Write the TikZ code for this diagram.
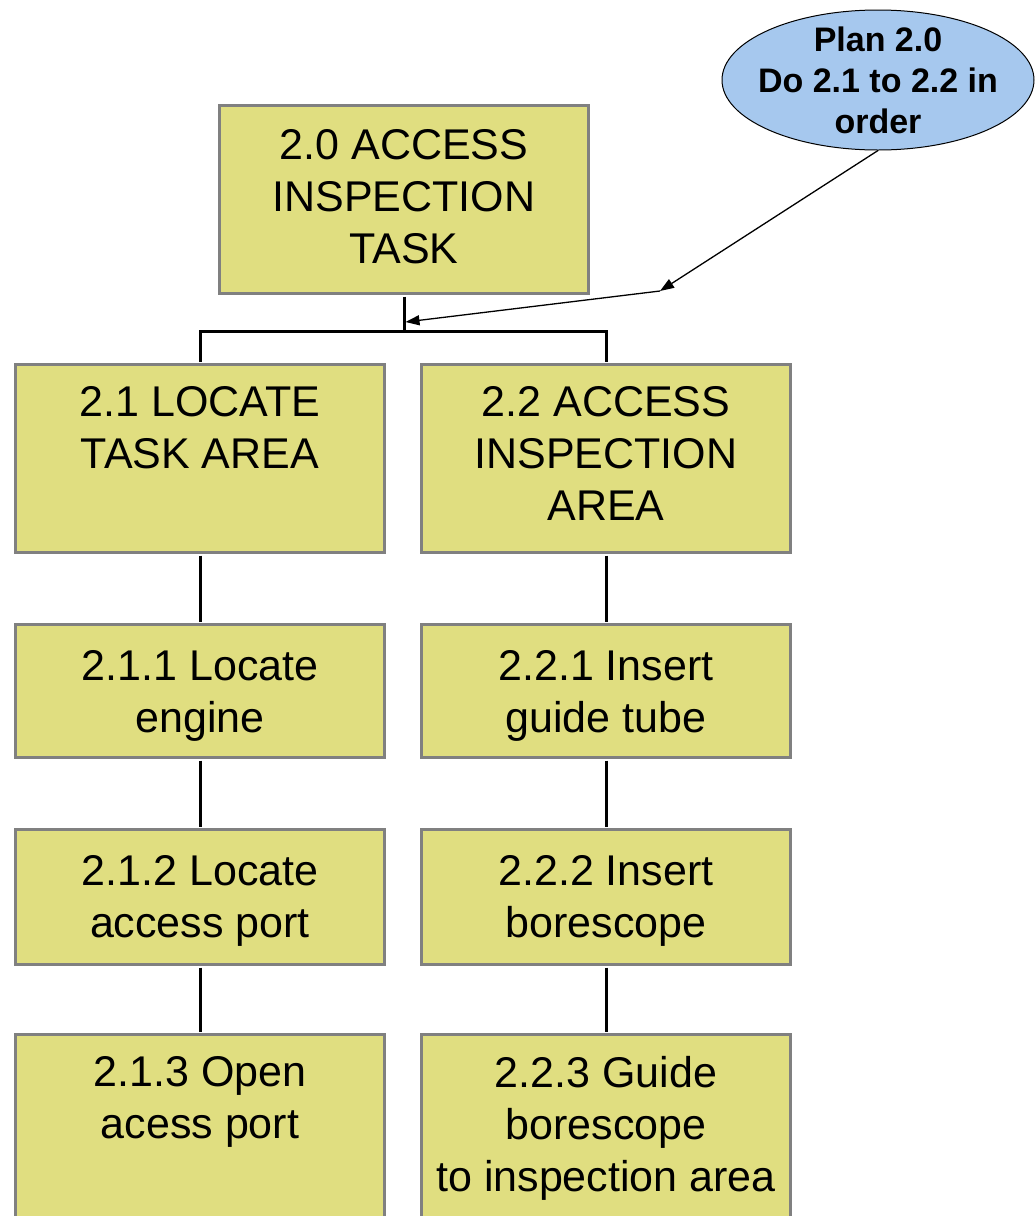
\documentclass[tikz,border=0pt]{standalone}
\usepackage{fontspec}
\setmainfont{Liberation Sans}
\usetikzlibrary{arrows.meta,shapes.geometric,calc}
\definecolor{boxfill}{RGB}{224,222,128}
\definecolor{boxedge}{RGB}{128,128,128}
\definecolor{planfill}{RGB}{166,200,238}

\begin{document}
\begin{tikzpicture}[x=1pt,y=-1pt,
  taskbox/.style={rectangle, draw=boxedge, line width=3pt, fill=boxfill,
    inner sep=0pt, minimum width=369pt, anchor=north west},
  tasklabel/.style={inner sep=0pt, align=center, anchor=north,
    font={\fontsize{43}{52}\selectfont}},
  link/.style={line width=3pt, draw=black},
  planarrow/.style={line width=1.3pt, draw=black,
    -{Triangle[length=14pt,width=10pt]}},
  plannote/.style={ellipse, draw=black, line width=1pt, fill=planfill,
    minimum width=312pt, minimum height=140pt, inner sep=0pt},
  plantext/.style={inner sep=0pt, align=center,
    font={\fontsize{34}{41}\bfseries\selectfont}}]

\useasboundingbox (0,0) rectangle (1036,1216);
\clip (0,0) rectangle (1036,1216);

% task boxes
\node[taskbox, minimum height=188pt] (t20)  at (218,104)  {};
\node[taskbox, minimum height=188pt] (t21)  at (14,363)   {};
\node[taskbox, minimum height=188pt] (t22)  at (420,363)  {};
\node[taskbox, minimum height=133pt] (t211) at (14,623)   {};
\node[taskbox, minimum height=133pt] (t221) at (420,623)  {};
\node[taskbox, minimum height=135pt] (t212) at (14,828)   {};
\node[taskbox, minimum height=135pt] (t222) at (420,828)  {};
\node[taskbox, minimum height=230pt] (t213) at (14,1033)  {};
\node[taskbox, minimum height=230pt] (t223) at (420,1033) {};

% box texts
\node[tasklabel] (l20)  at ($(t20.north)+(0,25)$)  {2.0 ACCESS\\INSPECTION\\TASK};
\node[tasklabel] (l21)  at ($(t21.north)+(0,23)$)  {2.1 LOCATE\\TASK AREA};
\node[tasklabel] (l22)  at ($(t22.north)+(0,23)$)  {2.2 ACCESS\\INSPECTION\\AREA};
\node[tasklabel] (l211) at ($(t211.north)+(0,27)$) {2.1.1 Locate\\engine};
\node[tasklabel] (l221) at ($(t221.north)+(0,27)$) {2.2.1 Insert\\guide tube};
\node[tasklabel] (l212) at ($(t212.north)+(0,27)$) {2.1.2 Locate\\access port};
\node[tasklabel] (l222) at ($(t222.north)+(0,27)$) {2.2.2 Insert\\borescope};
\node[tasklabel] (l213) at ($(t213.north)+(0,23)$) {2.1.3 Open\\acess port};
\node[tasklabel] (l223) at ($(t223.north)+(0,23)$) {2.2.3 Guide\\borescope\\to inspection area};

% hierarchy connectors
\coordinate (fork) at ($(t20.south)+(0,36)$);
\draw[link, shorten <=1.5pt] (t20.south) -- (fork);
\draw[link, shorten <=1.5pt, shorten >=1.5pt] (t21.north) |- (fork) -| (t22.north);
\draw[link, shorten <=1.5pt, shorten >=1.5pt] (t21.south) -- (t211.north);
\draw[link, shorten <=1.5pt, shorten >=1.5pt] (t211.south) -- (t212.north);
\draw[link, shorten <=1.5pt, shorten >=1.5pt] (t212.south) -- (t213.north);
\draw[link, shorten <=1.5pt, shorten >=1.5pt] (t22.south) -- (t221.north);
\draw[link, shorten <=1.5pt, shorten >=1.5pt] (t221.south) -- (t222.north);
\draw[link, shorten <=1.5pt, shorten >=1.5pt] (t222.south) -- (t223.north);

% plan note and its pointer
\node[plannote] (p20) at (878,80) {};
\node[plantext] (p20text) at (p20.center) {Plan 2.0\\Do 2.1 to 2.2 in\\order};
\coordinate (kink) at (660,291);
\coordinate (tap) at ($(t20.south)+(0,27)$);
\draw[planarrow] (p20.south) -- (kink);
\draw[planarrow] (kink) -- ([xshift=1.5pt]tap);

\end{tikzpicture}
\end{document}
